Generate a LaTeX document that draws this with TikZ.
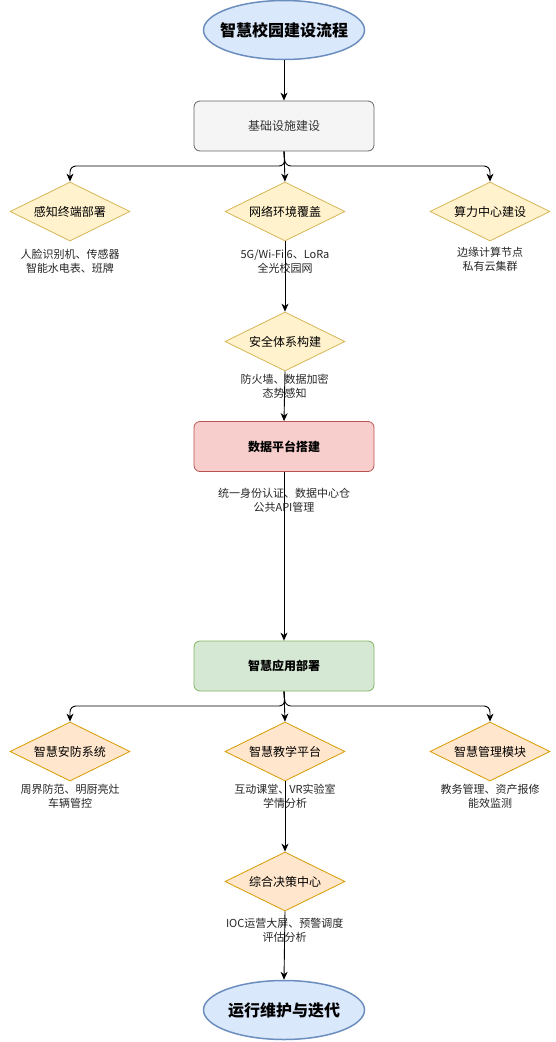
\documentclass[tikz,border=0pt]{standalone}
\usepackage{fontspec}
\setmainfont{Noto Sans CJK SC}
\usetikzlibrary{shapes.geometric,arrows.meta}
\definecolor{bfill}{HTML}{DAE8FC}\definecolor{bdraw}{HTML}{6C8EBF}
\definecolor{gfill}{HTML}{F5F5F5}\definecolor{gdraw}{HTML}{666666}\definecolor{gtext}{HTML}{333333}
\definecolor{rfill}{HTML}{F8CECC}\definecolor{rdraw}{HTML}{B85450}
\definecolor{nfill}{HTML}{D5E8D4}\definecolor{ndraw}{HTML}{82B366}
\definecolor{yfill}{HTML}{FFF2CC}\definecolor{ydraw}{HTML}{D6B656}
\definecolor{ofill}{HTML}{FFE6CC}\definecolor{odraw}{HTML}{D79B00}
\tikzset{
  term/.style={ellipse,draw=bdraw,fill=bfill,line width=1.5pt,minimum width=161pt,minimum height=59pt,inner xsep=-8pt,inner ysep=0pt,font=\fontsize{16}{19}\selectfont\bfseries},
  procbox/.style={rectangle,rounded corners=6pt,minimum width=180pt,minimum height=50pt,inner sep=0pt,line width=0.8pt,font=\fontsize{12}{14}\selectfont},
  ydia/.style={diamond,draw=ydraw,fill=yfill,line width=0.8pt,minimum width=120pt,minimum height=59pt,inner sep=0pt,aspect=2,font=\fontsize{12}{14}\selectfont},
  odia/.style={diamond,draw=odraw,fill=ofill,line width=0.8pt,minimum width=120pt,minimum height=59pt,inner sep=0pt,aspect=2,font=\fontsize{12}{14}\selectfont},
  lbl/.style={align=center,inner sep=0pt,font=\fontsize{11}{14}\selectfont,text=black!85},
  arr/.style={draw=black,line width=0.9pt,-{Stealth[length=8pt,width=7pt,inset=2.5pt]}},
  brarr/.style={arr,rounded corners=6pt},
}
\begin{document}
\begin{tikzpicture}[x=1pt,y=-1pt]
\useasboundingbox (0,0) rectangle (555,1042);
% nodes
\node[term] (start) at (284,30) {智慧校园建设流程};
\node[procbox,draw=gdraw,fill=gfill,text=gtext] (base) at (284,126) {基础设施建设};
\node[ydia] (d1) at (70,211.5) {感知终端部署};
\node[ydia] (d2) at (285,211.5) {网络环境覆盖};
\node[ydia] (d3) at (490,211.5) {算力中心建设};
\node[lbl] (t1) at (70,261) {人脸识别机、传感器\\智能水电表、班牌};
\node[lbl] (t3) at (490,259) {边缘计算节点\\私有云集群};
\node[ydia] (d4) at (285,341.5) {安全体系构建};
\node[procbox,draw=rdraw,fill=rfill,font=\fontsize{12}{14}\selectfont\bfseries] (data) at (284,446.5) {数据平台搭建};
\node[procbox,draw=ndraw,fill=nfill,font=\fontsize{12}{14}\selectfont\bfseries] (app) at (284,666) {智慧应用部署};
\node[odia] (e1) at (70,751.5) {智慧安防系统};
\node[odia] (e2) at (285,751.5) {智慧教学平台};
\node[odia] (e3) at (490,751.5) {智慧管理模块};
\node[lbl] (u1) at (70,796) {周界防范、明厨亮灶\\车辆管控};
\node[lbl] (u3) at (490,796) {教务管理、资产报修\\能效监测};
\node[odia] (e4) at (285,881.5) {综合决策中心};
\node[term] (stop) at (284,1010) {运行维护与迭代};
% junctions
\coordinate (j1) at (285,166);
\coordinate (j2) at (285,706);
% edges
\draw[arr] (start) -- (base);
\draw[brarr] (base.south) -- (j1) -| (d1.north);
\draw[arr] (base.south) -- (d2.north);
\draw[brarr] (base.south) -- (j1) -| (d3.north);
\draw[arr] (d2.south) -- node[lbl,pos=0.29] {5G/Wi-Fi 6、LoRa\\全光校园网} (d4.north);
\draw[arr] (d4.south) -- node[lbl,pos=0.3] {防火墙、数据加密\\态势感知} (data.north);
\draw[arr] (data.south) -- node[lbl,pos=0.17] {统一身份认证、数据中心仓\\公共API管理} (app.north);
\draw[brarr] (app.south) -- (j2) -| (e1.north);
\draw[arr] (app.south) -- (e2.north);
\draw[brarr] (app.south) -- (j2) -| (e3.north);
\draw[arr] (e2.south) -- node[lbl,pos=0.21] {互动课堂、VR实验室\\学情分析} (e4.north);
\draw[arr] (e4.south) -- node[lbl,pos=0.28] {IOC运营大屏、预警调度\\评估分析} (stop.north);
\end{tikzpicture}
\end{document}
